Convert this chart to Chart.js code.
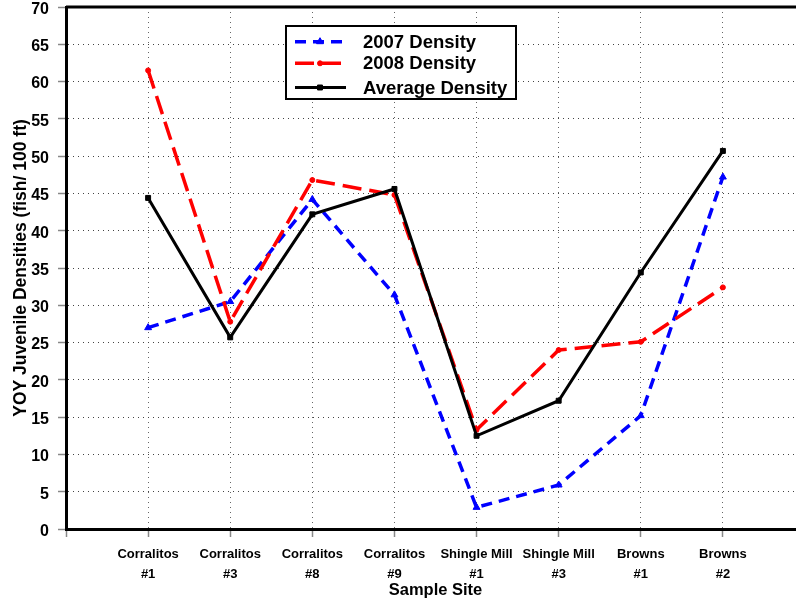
<!DOCTYPE html>
<html>
<head>
<meta charset="utf-8">
<script src="https://cdn.jsdelivr.net/npm/chart.js@4/dist/chart.umd.min.js"></script>
<style>
html,body{margin:0;padding:0;background:#fff;overflow:hidden;width:796px;height:601px;}
#wrap{position:absolute;left:0;top:0;width:810px;height:601px;}
</style>
</head>
<body>
<div id="wrap"><canvas id="c" width="810" height="601"></canvas></div>
<script>
const siteNames = ['Corralitos','Corralitos','Corralitos','Corralitos','Shingle Mill','Shingle Mill','Browns','Browns'];
const siteNums  = ['#1','#3','#8','#9','#1','#3','#1','#2'];
const density2007 = [27.0, 30.5, 44.2, 31.4, 2.9, 5.9, 15.2, 47.2];
const density2008 = [61.5, 27.8, 46.8, 44.8, 13.3, 24.0, 25.1, 32.4];
const densityAvg  = [44.4, 25.7, 42.2, 45.6, 12.5, 17.2, 34.4, 50.7];
const seriesNames = ['2007 Density','2008 Density','Average Density'];
const yTicks = [0,5,10,15,20,25,30,35,40,45,50,55,60,65,70];

const FONT = "'Liberation Sans', Arial, Helvetica, sans-serif";
const toPts = arr => arr.map((v,i)=>({x:i+1,y:v}));

const frame = {
  id:'frame',
  afterDraw(chart){
    const {ctx, chartArea:a} = chart;
    ctx.save();
    ctx.strokeStyle='#000'; ctx.lineWidth=3; ctx.setLineDash([]);
    ctx.beginPath();
    ctx.moveTo(a.left, a.top); ctx.lineTo(a.right+10, a.top);
    ctx.stroke();
    ctx.restore();
  }
};

const legendBox = {
  id:'legendBox',
  afterDraw(chart){
    const ctx = chart.ctx;
    const bx=286, by=26, bw=230, bh=73;
    ctx.save();
    ctx.fillStyle='#fff';
    ctx.fillRect(bx,by,bw,bh);
    ctx.strokeStyle='#000'; ctx.lineWidth=2; ctx.setLineDash([]);
    ctx.strokeRect(bx,by,bw,bh);
    const rows=[41.7,63.3,87.5];
    chart.data.datasets.forEach((ds,i)=>{
      const y=rows[i];
      ctx.strokeStyle=ds.borderColor; ctx.lineWidth=ds.borderWidth;
      ctx.setLineDash(ds.borderDash||[]);
      ctx.beginPath(); ctx.moveTo(295,y); ctx.lineTo(346,y); ctx.stroke();
      ctx.setLineDash([]);
      ctx.fillStyle=ds.backgroundColor; ctx.lineWidth=1;
      Chart.helpers.drawPoint(ctx,{pointStyle:ds.pointStyle,radius:ds.pointRadius,rotation:0,borderWidth:1}, 320, y);
      ctx.fillStyle='#000';
      ctx.font="bold 18.5px "+FONT;
      ctx.textBaseline='middle'; ctx.textAlign='left';
      ctx.fillText(ds.label,363,y+1);
    });
    ctx.restore();
  }
};

new Chart(document.getElementById('c'),{
  type:'line',
  data:{
    datasets:[
      {label:seriesNames[0], data:toPts(density2007), borderColor:'#0000ff', backgroundColor:'#0000ff',
       borderWidth:3.5, borderDash:[11,7], pointStyle:'triangle', pointRadius:4, pointBorderWidth:1, tension:0, order:3},
      {label:seriesNames[1], data:toPts(density2008), borderColor:'#ff0000', backgroundColor:'#ff0000',
       borderWidth:3.5, borderDash:[19,8], pointStyle:'circle', pointRadius:2.5, pointBorderWidth:1, tension:0, order:2},
      {label:seriesNames[2], data:toPts(densityAvg), borderColor:'#000000', backgroundColor:'#000000',
       borderWidth:3, pointStyle:'rect', pointRadius:3.5, pointBorderWidth:1, tension:0, order:1}
    ]
  },
  options:{
    responsive:false, animation:false,
    layout:{padding:{left:0,top:7,right:4,bottom:0}},
    plugins:{legend:{display:false}, tooltip:{enabled:false}},
    scales:{
      x:{
        type:'linear', min:0, max:9,
        afterFit(s){ s.height=72; s.paddingLeft=0; s.paddingRight=0; s.paddingTop=0; s.paddingBottom=0; },
        grid:{color:'#666', lineWidth:1, tickColor:'#888', tickLength:8, tickWidth:1.5},
        border:{display:true, color:'#000', width:3, dash:[1,4]},
        ticks:{stepSize:1, autoSkip:false, maxRotation:0, padding:7, color:'#000',
          font:{family:FONT, size:13, weight:'bold', lineHeight:1.585},
          callback:(v)=> (v>=1 && v<=8) ? [siteNames[v-1], siteNums[v-1]] : ''},
        title:{display:true, text:'Sample Site', color:'#000', padding:{top:0,bottom:1},
          font:{family:FONT, size:16.5, weight:'bold', lineHeight:1.2}}
      },
      y:{
        min:0, max:70,
        afterFit(s){ s.width=66; s.paddingTop=0; s.paddingBottom=0; s.paddingLeft=0; s.paddingRight=0; },
        afterBuildTicks(s){ s.ticks = yTicks.map(v=>({value:v})); },
        grid:{color:'#444', lineWidth:1, tickColor:'#888', tickLength:8, tickWidth:1.5},
        border:{display:true, color:'#000', width:3, dash:[1,4]},
        ticks:{padding:9, labelOffset:2.5, color:'#000', font:{family:FONT, size:16, weight:'bold'}},
        title:{display:true, text:'YOY Juvenile Densities (fish/ 100 ft)', color:'#000', padding:{top:11,bottom:0},
          font:{family:FONT, size:17.5, weight:'bold', lineHeight:1.2}}
      }
    }
  },
  plugins:[legendBox, frame]
});
</script>
</body>
</html>
